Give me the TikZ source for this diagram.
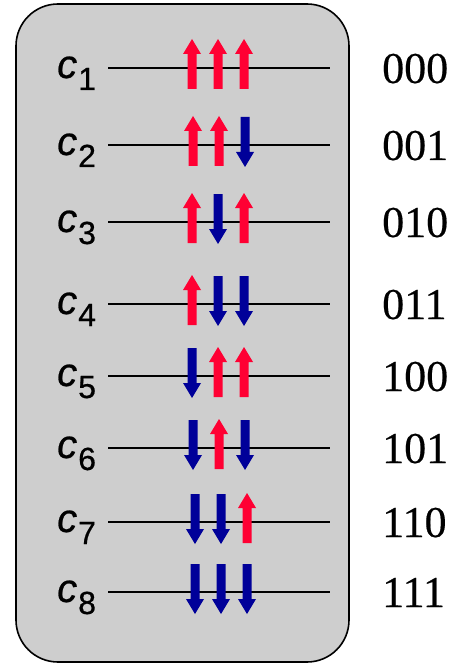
\documentclass[tikz,border=0pt]{standalone}
\usepackage{fontspec}
\setmainfont{Liberation Serif}
\newfontfamily\timesfont[FakeBold=0.4]{Liberation Serif}
\newfontfamily\arialfont[FakeBold=0.6]{Liberation Sans}
\definecolor{spinred}{RGB}{255,0,51}
\definecolor{spinblue}{RGB}{0,0,153}
\definecolor{boxgray}{RGB}{206,206,206}
\tikzset{
  panel/.style={draw=black, line width=1.6pt, fill=boxgray, rounded corners=42pt},
  level/.style={draw=black, line width=1.6pt},
  statelabel/.style={anchor=base west, inner sep=0pt, font=\arialfont\fontsize{40}{40}\selectfont},
  bits/.style={anchor=base west, inner sep=0pt, font=\timesfont\fontsize{44}{44}\selectfont},
}
% up arrow at (x, line y): spans from y-29 (tip) to y+22 (tail) in pixel units (y downwards)
\newcommand{\upspin}[2]{%
  \fill[spinred] (#1-4.5pt,-#2pt-21pt) -- (#1+4.5pt,-#2pt-21pt) -- (#1+4.5pt,-#2pt+14pt)
   -- (#1+9pt,-#2pt+14pt) -- (#1,-#2pt+29pt) -- (#1-9pt,-#2pt+14pt) -- (#1-4.5pt,-#2pt+14pt) -- cycle;}
\newcommand{\downspin}[2]{%
  \fill[spinblue] (#1-4.5pt,-#2pt+28pt) -- (#1+4.5pt,-#2pt+28pt) -- (#1+4.5pt,-#2pt-7pt)
   -- (#1+9pt,-#2pt-7pt) -- (#1,-#2pt-22pt) -- (#1-9pt,-#2pt-7pt) -- (#1-4.5pt,-#2pt-7pt) -- cycle;}
\begin{document}
\begin{tikzpicture}[x=1pt,y=1pt]
\useasboundingbox (0,0) rectangle (474,-663);
\draw[panel] (16,-4) rectangle (349,-662);
% rows: line y, arrow x shift, bits, spins
\foreach \y/\dx/\n/\b/\sa/\sb/\sc in {
  68/0/1/000/u/u/u,
  145/1/2/001/u/u/d,
  222/0/3/010/u/d/u,
  304/0/4/011/u/d/d,
  376/0/5/100/d/u/u,
  448/1/6/101/d/u/d,
  522/3/7/110/d/d/u,
  592/3/8/111/d/d/d}{
  \coordinate (l\n) at (108,-\y);
  \coordinate (r\n) at (330,-\y);
  \draw[level] (l\n) -- (r\n);
  \node[statelabel] (c\n) at (57,-\y-10) {\itshape c\kern1pt\raisebox{-12pt}{\fontsize{32}{32}\selectfont\upshape\n}};
  \node[bits] (b\n) at (382,-\y-15) {\b};
  \foreach \s [count=\k] in {\sa,\sb,\sc}{
    \pgfmathsetmacro{\xx}{166+26*\k+\dx}
    \if u\s \upspin{\xx pt}{\y}\else \downspin{\xx pt}{\y}\fi
  }
}
\end{tikzpicture}
\end{document}
